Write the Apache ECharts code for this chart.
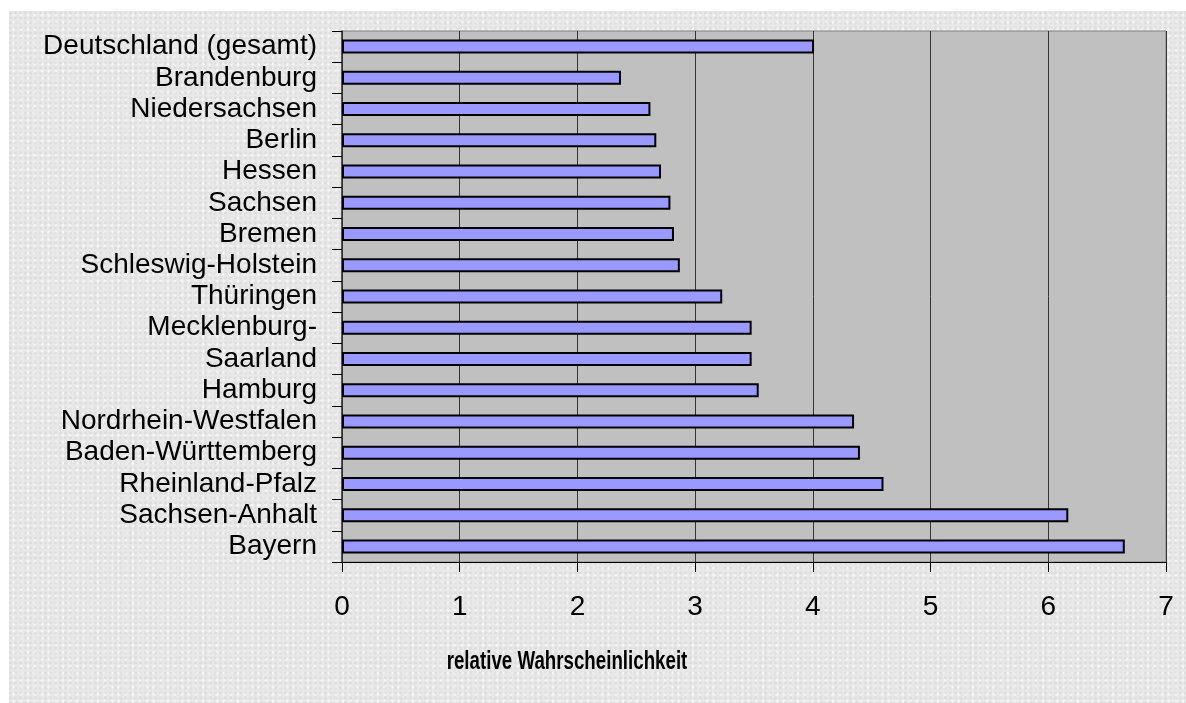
<!DOCTYPE html>
<html>
<head>
<meta charset="utf-8">
<script src="https://cdn.jsdelivr.net/npm/echarts@6/dist/echarts.min.js"></script>
<style>
  html, body { margin: 0; padding: 0; background: #ffffff; }
  #wrap { position: relative; width: 1186px; height: 703px; overflow: hidden; }
  #panel {
    position: absolute; left: 9px; top: 11px; right: 0; bottom: 0;
    background-color: #e8e8e8;
    background-image:
      radial-gradient(circle at 30% 40%, rgba(200,200,200,0.35) 0 1px, transparent 2px),
      radial-gradient(circle at 70% 60%, rgba(255,255,255,0.6) 0 1px, transparent 2px);
    background-size: 5px 5px, 7px 7px;
  }
  #chart { position: absolute; left: 0; top: 0; width: 1186px; height: 703px; }
</style>
</head>
<body>
<div id="wrap">
  <div id="panel"></div>
  <div id="chart"></div>
</div>
<script>
// Bundesländer, top to bottom
const categories = [
  'Deutschland (gesamt)', 'Brandenburg', 'Niedersachsen', 'Berlin', 'Hessen',
  'Sachsen', 'Bremen', 'Schleswig-Holstein', 'Thüringen', 'Mecklenburg-',
  'Saarland', 'Hamburg', 'Nordrhein-Westfalen', 'Baden-Württemberg',
  'Rheinland-Pfalz', 'Sachsen-Anhalt', 'Bayern'
];
// relative Wahrscheinlichkeit per Land
const values = [
  4.01, 2.37, 2.62, 2.67, 2.71,
  2.79, 2.82, 2.87, 3.23, 3.48,
  3.48, 3.54, 4.35, 4.40,
  4.60, 6.17, 6.65
];
const xTicks = [0, 1, 2, 3, 4, 5, 6, 7];
const axisTitle = 'relative Wahrscheinlichkeit';

const chart = echarts.init(document.getElementById('chart'), null, { renderer: 'canvas' });
const font = '"Liberation Sans", Arial, sans-serif';

chart.setOption({
  backgroundColor: 'transparent',
  animation: false,
  grid: {
    left: 342, right: 20, top: 31, bottom: 141,
    show: true, backgroundColor: '#c0c0c0', borderColor: '#808080', borderWidth: 1
  },
  xAxis: {
    type: 'value',
    min: xTicks[0], max: xTicks[xTicks.length - 1], interval: 1,
    axisLine: { show: true, lineStyle: { color: '#000', width: 1 } },
    axisTick: { show: true, length: 10, lineStyle: { color: '#000' } },
    axisLabel: { margin: 31, fontSize: 28, color: '#000', fontFamily: font },
    splitLine: { show: true, lineStyle: { color: '#333', width: 1 } }
  },
  yAxis: {
    type: 'category',
    data: categories,
    inverse: true,
    axisLine: { show: true, lineStyle: { color: '#333', width: 1.5 } },
    axisTick: { show: true, length: 10, interval: 0, lineStyle: { color: '#000' } },
    axisLabel: { interval: 0, margin: 25, fontSize: 28, color: '#000', fontFamily: font },
    splitLine: { show: false }
  },
  graphic: [{
    type: 'text',
    x: 567, y: 662,
    scaleX: 0.72,
    style: {
      text: axisTitle,
      font: 'bold 26px ' + font,
      fill: '#000',
      align: 'center',
      verticalAlign: 'middle'
    }
  }],
  series: [{
    type: 'bar',
    data: values,
    barWidth: 14,
    itemStyle: { color: '#9999ff', borderColor: '#000', borderWidth: 2 }
  }]
});
</script>
</body>
</html>
